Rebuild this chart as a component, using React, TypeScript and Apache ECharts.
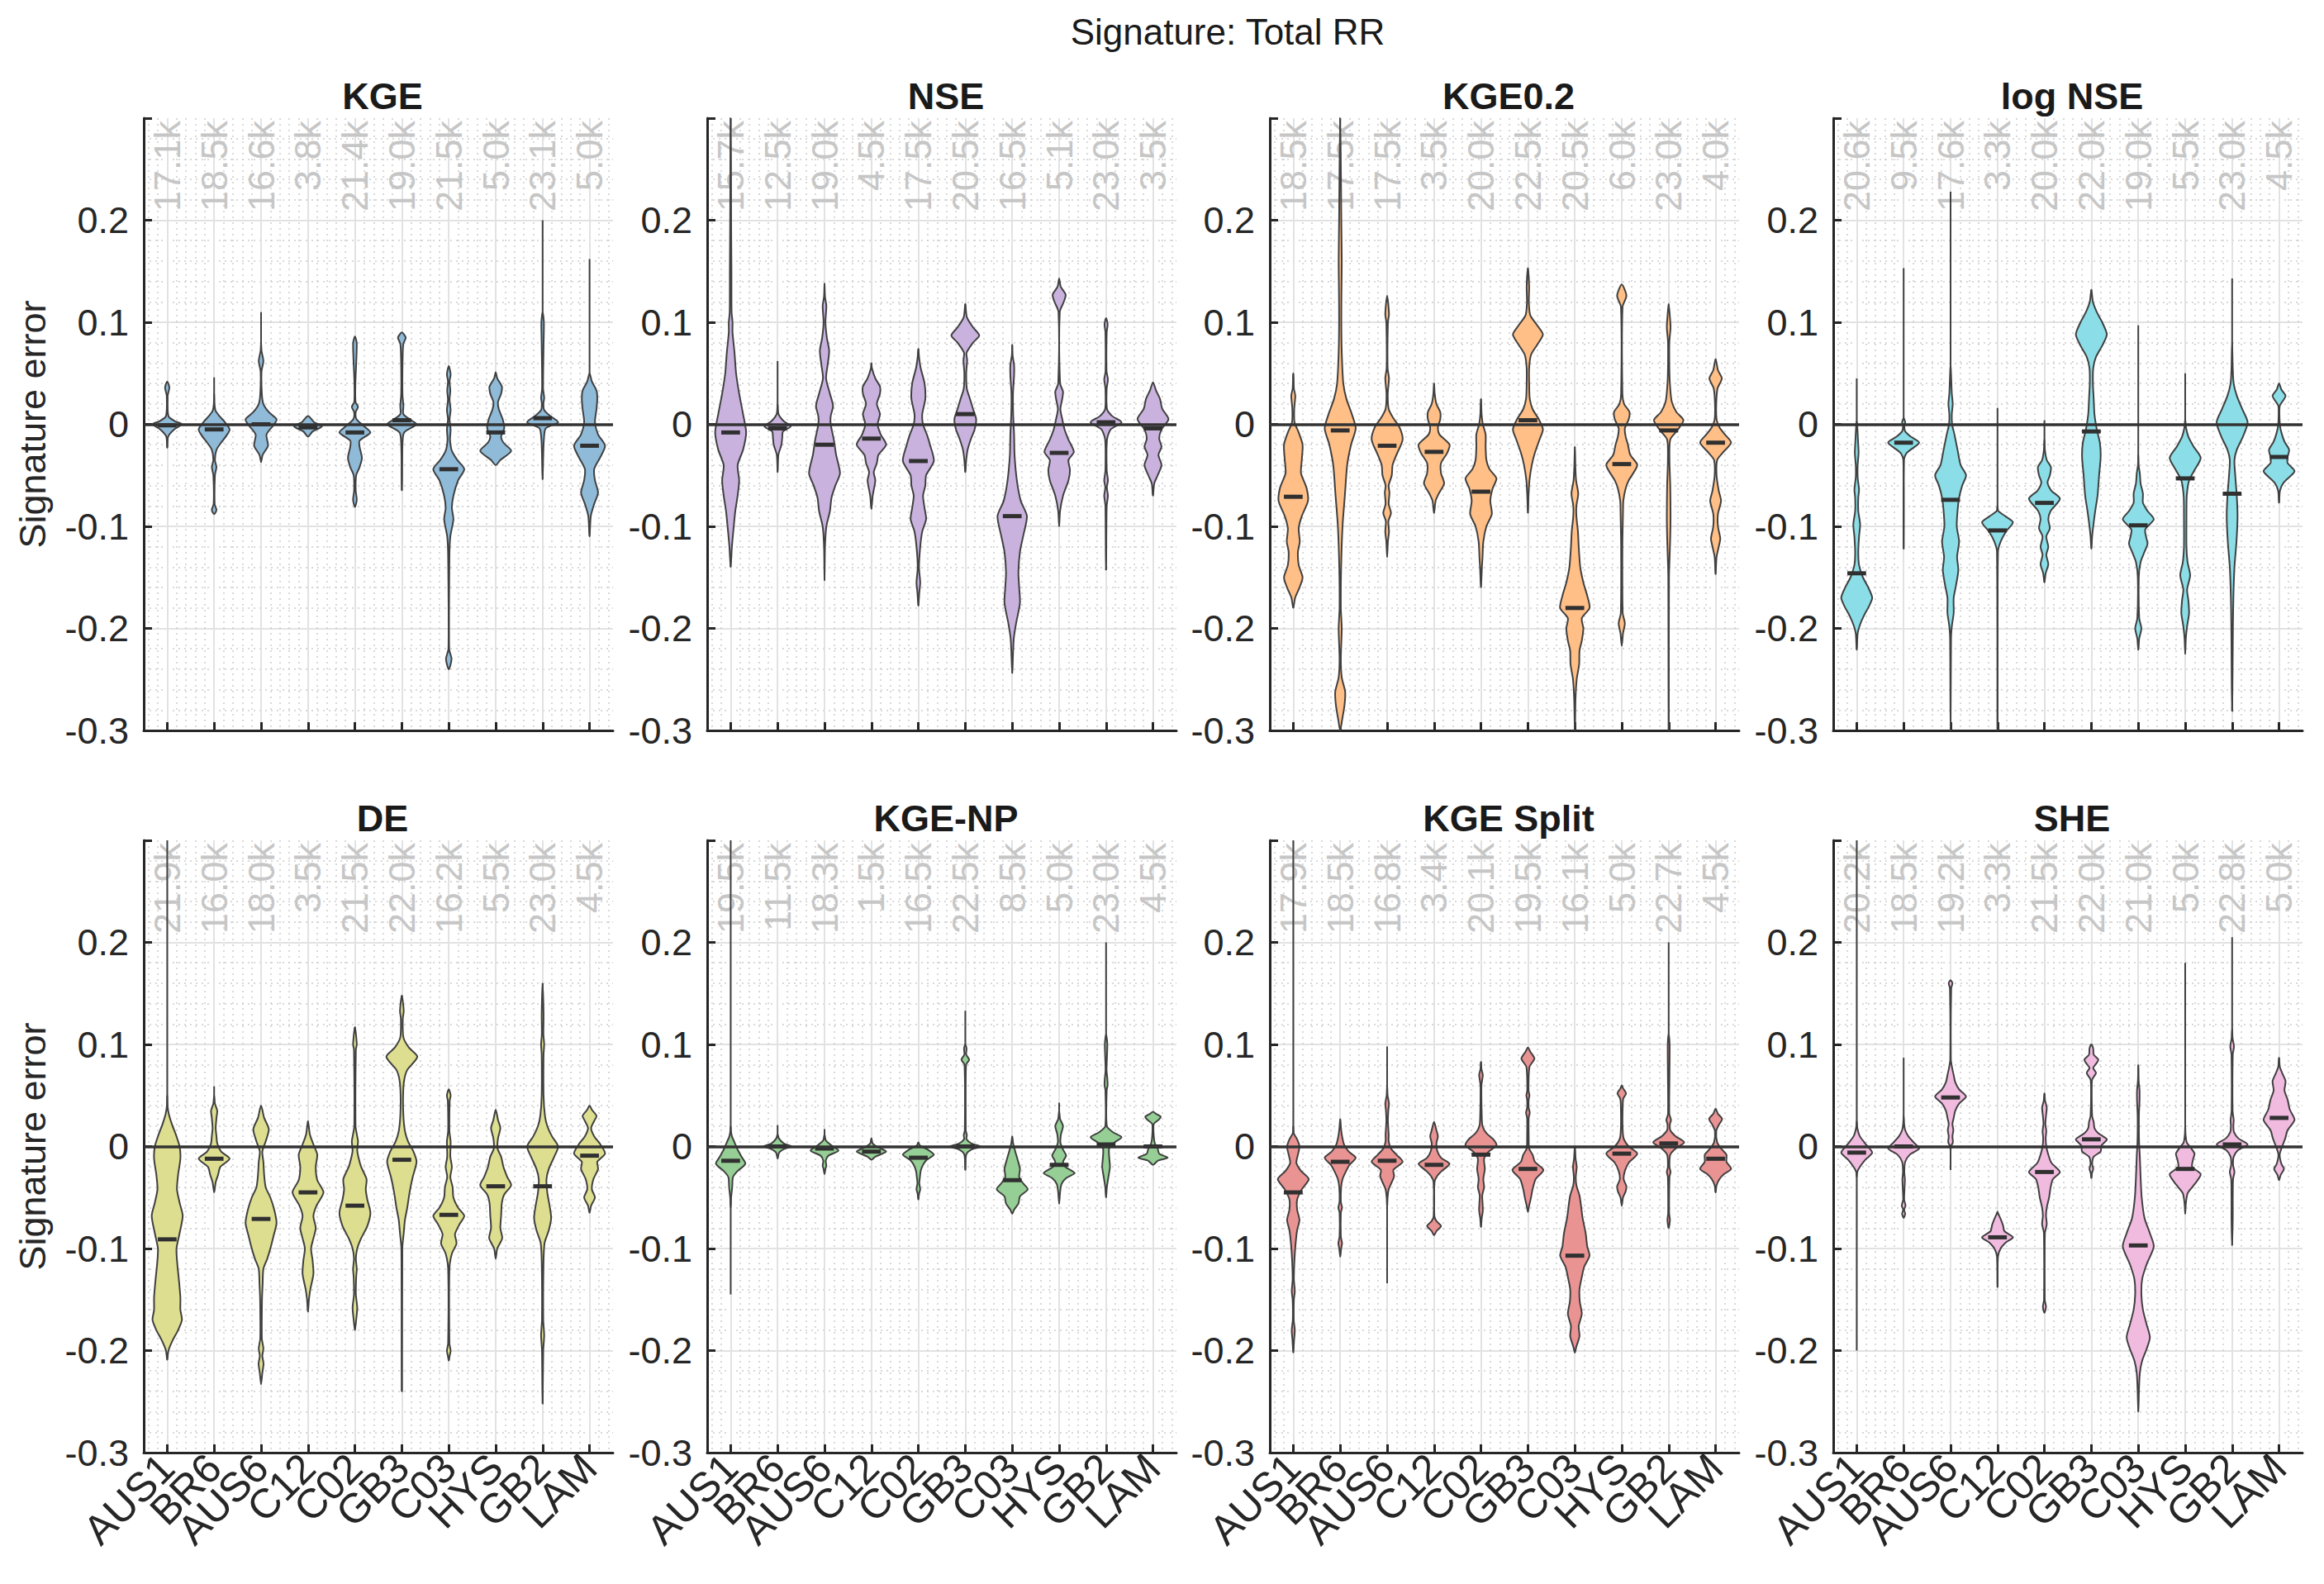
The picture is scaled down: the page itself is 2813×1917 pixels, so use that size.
import React, { useEffect, useRef } from "react";
import * as echarts from "echarts";

type Knot = [number, number];

const FONT = '"Liberation Sans", Arial, Helvetica, sans-serif';
const AXIS = "#262626";
const GRID = "#e2e2e2";
const MINOR = "#cdcdcd";
const EDGE = "#404040";

const categories = ["AUS1", "BR6", "AUS6", "C12", "C02", "GB3", "C03", "HYS", "GB2", "LAM"];
const panelTitles = ["KGE", "NSE", "KGE0.2", "log NSE", "DE", "KGE-NP", "KGE Split", "SHE"];
const violinColors = ["#8fbbd9", "#c9b3de", "#ffbf86", "#8bdee7", "#ddde90", "#95cf95", "#ea9393", "#f1bbe0"];
const yTicks = [-0.3, -0.2, -0.1, 0, 0.1, 0.2];

// ---- KGE ----
const kgeCounts = ["17.1k", "18.5k", "16.6k", "3.8k", "21.4k", "19.0k", "21.5k", "5.0k", "23.1k", "5.0k"];
const kgeMedians = [-0.001, -0.005, 0, -0.003, -0.008, 0.004, -0.044, -0.008, 0.006, -0.021];
const kgeRanges = [[-0.023, 0.042], [-0.088, 0.046], [-0.037, 0.11], [-0.012, 0.008], [-0.081, 0.086], [-0.065, 0.09], [-0.24, 0.057], [-0.04, 0.051], [-0.054, 0.2], [-0.11, 0.162]];
const kgeShapes: Knot[][] = [
  [[-0.023, 0], [-0.012, 0.06], [-0.005, 0.45], [0, 0.95], [0.003, 0.5], [0.008, 0.08], [0.028, 0.03], [0.036, 0.14], [0.042, 0]],
  [[-0.088, 0], [-0.084, 0.15], [-0.078, 0.03], [-0.05, 0.05], [-0.042, 0.15], [-0.035, 0.05], [-0.025, 0.15], [-0.018, 0.45], [-0.011, 0.8], [-0.005, 1.0], [0.002, 0.7], [0.008, 0.35], [0.013, 0.1], [0.02, 0.02], [0.03, 0]],
  [[-0.037, 0], [-0.03, 0.1], [-0.021, 0.45], [-0.01, 0.35], [0, 0.85], [0.005, 1.0], [0.012, 0.5], [0.02, 0.15], [0.03, 0.05], [0.052, 0.03], [0.062, 0.15], [0.072, 0.03], [0.08, 0]],
  [[-0.012, 0], [-0.007, 0.3], [-0.002, 0.9], [0.002, 0.4], [0.008, 0]],
  [[-0.081, 0], [-0.074, 0.12], [-0.065, 0.05], [-0.05, 0.08], [-0.042, 0.3], [-0.033, 0.45], [-0.022, 0.3], [-0.016, 0.3], [-0.008, 1.0], [-0.002, 0.6], [0.005, 0.1], [0.012, 0.05], [0.017, 0.2], [0.022, 0.04], [0.04, 0.03], [0.079, 0.12], [0.086, 0]],
  [[-0.065, 0], [-0.02, 0.04], [-0.008, 0.15], [0, 0.95], [0.004, 0.6], [0.01, 0.1], [0.018, 0.1], [0.03, 0.04], [0.065, 0.05], [0.079, 0.1], [0.085, 0.25], [0.09, 0]],
  [[-0.24, 0], [-0.23, 0.18], [-0.22, 0.02], [-0.13, 0.04], [-0.11, 0.1], [-0.093, 0.3], [-0.082, 0.2], [-0.07, 0.3], [-0.055, 0.6], [-0.044, 1.0], [-0.035, 0.55], [-0.026, 0.2], [-0.015, 0.08], [-0.005, 0.12], [0.005, 0.05], [0.014, 0.12], [0.024, 0.05], [0.033, 0.1], [0.042, 0.05], [0.049, 0.12], [0.057, 0]],
  [[-0.04, 0], [-0.035, 0.3], [-0.026, 1.0], [-0.018, 0.5], [-0.012, 0.35], [-0.004, 0.55], [0.005, 0.45], [0.015, 0.2], [0.022, 0.15], [0.03, 0.35], [0.037, 0.4], [0.045, 0.1], [0.051, 0]],
  [[-0.054, 0], [-0.03, 0.04], [-0.015, 0.08], [-0.004, 0.2], [0.002, 1.0], [0.008, 0.5], [0.014, 0.1], [0.02, 0.05], [0.026, 0.1], [0.035, 0.03], [0.077, 0.06], [0.1, 0.08], [0.11, 0]],
  [[-0.11, 0], [-0.09, 0.08], [-0.078, 0.3], [-0.067, 0.55], [-0.055, 0.35], [-0.044, 0.3], [-0.032, 0.7], [-0.021, 1.0], [-0.01, 0.55], [0.002, 0.35], [0.015, 0.45], [0.025, 0.5], [0.033, 0.45], [0.042, 0.15], [0.05, 0]],
];

// ---- NSE ----
const nseCounts = ["15.7k", "12.5k", "19.0k", "4.5k", "17.5k", "20.5k", "16.5k", "5.1k", "23.0k", "3.5k"];
const nseMedians = [-0.008, -0.004, -0.02, -0.014, -0.036, 0.01, -0.09, -0.028, 0.002, -0.004];
const nseRanges = [[-0.14, 0.3], [-0.047, 0.062], [-0.153, 0.138], [-0.083, 0.06], [-0.178, 0.074], [-0.047, 0.118], [-0.244, 0.078], [-0.1, 0.143], [-0.143, 0.104], [-0.07, 0.041]];
const nseShapes: Knot[][] = [
  [[-0.14, 0], [-0.12, 0.08], [-0.1, 0.2], [-0.085, 0.3], [-0.07, 0.45], [-0.055, 0.55], [-0.04, 0.45], [-0.025, 0.8], [-0.008, 1.0], [0.01, 0.8], [0.03, 0.55], [0.05, 0.35], [0.07, 0.25], [0.09, 0.12], [0.1, 0.12], [0.11, 0.06], [0.15, 0.05], [0.2, 0.03], [0.3, 0]],
  [[-0.047, 0], [-0.03, 0.05], [-0.02, 0.25], [-0.013, 0.3], [-0.007, 0.35], [-0.002, 0.85], [0.003, 0.4], [0.01, 0.06], [0.02, 0]],
  [[-0.153, 0], [-0.12, 0.03], [-0.1, 0.12], [-0.085, 0.35], [-0.072, 0.45], [-0.06, 0.7], [-0.048, 1.0], [-0.03, 0.75], [-0.015, 0.6], [0, 0.4], [0.008, 0.4], [0.018, 0.55], [0.03, 0.35], [0.045, 0.1], [0.058, 0.2], [0.072, 0.3], [0.085, 0.15], [0.1, 0.06], [0.116, 0.12], [0.125, 0.03], [0.138, 0]],
  [[-0.083, 0], [-0.07, 0.08], [-0.055, 0.25], [-0.047, 0.15], [-0.038, 0.35], [-0.03, 0.45], [-0.02, 0.95], [-0.01, 0.6], [0, 0.4], [0.01, 0.55], [0.02, 0.35], [0.03, 0.55], [0.037, 0.55], [0.045, 0.25], [0.055, 0.03], [0.06, 0]],
  [[-0.178, 0], [-0.165, 0.06], [-0.155, 0.12], [-0.14, 0.04], [-0.12, 0.12], [-0.105, 0.25], [-0.093, 0.5], [-0.082, 0.4], [-0.07, 0.3], [-0.06, 0.45], [-0.05, 0.5], [-0.036, 1.0], [-0.02, 0.75], [-0.01, 0.55], [0, 0.3], [0.01, 0.25], [0.025, 0.45], [0.04, 0.4], [0.055, 0.15], [0.065, 0.05], [0.074, 0]],
  [[-0.047, 0], [-0.035, 0.06], [-0.025, 0.15], [-0.015, 0.35], [-0.005, 0.6], [0.005, 0.7], [0.015, 0.5], [0.025, 0.3], [0.035, 0.1], [0.05, 0.06], [0.063, 0.12], [0.07, 0.08], [0.08, 0.5], [0.087, 0.9], [0.095, 0.5], [0.105, 0.1], [0.118, 0]],
  [[-0.244, 0], [-0.23, 0.04], [-0.21, 0.1], [-0.195, 0.25], [-0.175, 0.5], [-0.16, 0.45], [-0.145, 0.4], [-0.125, 0.5], [-0.11, 0.7], [-0.09, 0.95], [-0.075, 0.55], [-0.055, 0.3], [-0.03, 0.15], [-0.01, 0.12], [0.01, 0.06], [0.03, 0.05], [0.048, 0.12], [0.058, 0.12], [0.068, 0.02], [0.078, 0]],
  [[-0.1, 0], [-0.085, 0.06], [-0.07, 0.25], [-0.055, 0.6], [-0.045, 0.7], [-0.035, 0.6], [-0.027, 0.95], [-0.015, 0.6], [-0.005, 0.35], [0.005, 0.2], [0.015, 0.08], [0.025, 0.2], [0.032, 0.25], [0.04, 0.06], [0.11, 0.04], [0.12, 0.3], [0.127, 0.42], [0.135, 0.1], [0.143, 0]],
  [[-0.143, 0], [-0.08, 0.04], [-0.07, 0.12], [-0.062, 0.05], [-0.055, 0.12], [-0.045, 0.04], [-0.015, 0.06], [-0.005, 0.3], [0.002, 1.0], [0.008, 0.4], [0.015, 0.06], [0.035, 0.04], [0.044, 0.12], [0.052, 0.03], [0.09, 0.04], [0.098, 0.1], [0.104, 0]],
  [[-0.07, 0], [-0.058, 0.08], [-0.05, 0.3], [-0.04, 0.55], [-0.03, 0.35], [-0.022, 0.55], [-0.014, 0.4], [-0.005, 0.55], [0.005, 1.0], [0.015, 0.6], [0.025, 0.45], [0.033, 0.2], [0.041, 0]],
];

// ---- KGE0.2 ----
const kge02Counts = ["18.5k", "17.5k", "17.5k", "3.5k", "20.0k", "22.5k", "20.5k", "6.0k", "23.0k", "4.0k"];
const kge02Medians = [-0.071, -0.006, -0.021, -0.027, -0.066, 0.004, -0.18, -0.039, -0.006, -0.018];
const kge02Ranges = [[-0.18, 0.05], [-0.3, 0.3], [-0.13, 0.126], [-0.087, 0.04], [-0.16, 0.025], [-0.087, 0.153], [-0.3, -0.022], [-0.217, 0.137], [-0.3, 0.118], [-0.147, 0.064]];
const kge02Shapes: Knot[][] = [
  [[-0.18, 0], [-0.17, 0.12], [-0.16, 0.4], [-0.15, 0.6], [-0.138, 0.35], [-0.125, 0.3], [-0.115, 0.42], [-0.102, 0.35], [-0.09, 0.55], [-0.075, 0.95], [-0.062, 0.85], [-0.048, 0.5], [-0.035, 0.55], [-0.02, 0.6], [-0.008, 0.35], [0.002, 0.08], [0.015, 0.06], [0.028, 0.13], [0.035, 0.04], [0.05, 0]],
  [[-0.3, 0], [-0.29, 0.12], [-0.275, 0.28], [-0.262, 0.32], [-0.248, 0.1], [-0.23, 0.04], [-0.2, 0.1], [-0.18, 0.04], [-0.14, 0.06], [-0.1, 0.15], [-0.07, 0.3], [-0.04, 0.45], [-0.02, 0.7], [-0.004, 1.0], [0.01, 0.75], [0.025, 0.4], [0.04, 0.2], [0.07, 0.1], [0.1, 0.07], [0.13, 0.08], [0.16, 0.1], [0.2, 0.07], [0.24, 0.05], [0.3, 0]],
  [[-0.13, 0], [-0.115, 0.05], [-0.105, 0.12], [-0.095, 0.08], [-0.087, 0.25], [-0.078, 0.1], [-0.067, 0.15], [-0.06, 0.1], [-0.05, 0.3], [-0.04, 0.35], [-0.03, 0.6], [-0.015, 1.0], [-0.003, 0.8], [0.006, 0.4], [0.015, 0.1], [0.03, 0.04], [0.045, 0.12], [0.055, 0.03], [0.1, 0.05], [0.108, 0.12], [0.126, 0]],
  [[-0.087, 0], [-0.075, 0.1], [-0.068, 0.3], [-0.058, 0.65], [-0.048, 0.45], [-0.038, 0.45], [-0.028, 0.85], [-0.02, 1.0], [-0.01, 0.35], [-0.003, 0.25], [0.005, 0.4], [0.012, 0.4], [0.02, 0.15], [0.03, 0.04], [0.04, 0]],
  [[-0.16, 0], [-0.14, 0.06], [-0.13, 0.1], [-0.115, 0.15], [-0.1, 0.35], [-0.088, 0.7], [-0.075, 0.6], [-0.063, 0.75], [-0.053, 1.0], [-0.044, 0.55], [-0.035, 0.35], [-0.022, 0.3], [-0.01, 0.3], [0, 0.12], [0.01, 0.04], [0.025, 0]],
  [[-0.087, 0], [-0.07, 0.04], [-0.055, 0.1], [-0.04, 0.25], [-0.028, 0.45], [-0.015, 0.75], [-0.005, 0.97], [0.005, 0.7], [0.015, 0.3], [0.025, 0.12], [0.04, 0.08], [0.055, 0.08], [0.068, 0.2], [0.078, 0.6], [0.088, 0.97], [0.097, 0.6], [0.107, 0.15], [0.12, 0.06], [0.135, 0.08], [0.153, 0]],
  [[-0.3, 0], [-0.27, 0.04], [-0.25, 0.12], [-0.235, 0.28], [-0.222, 0.3], [-0.212, 0.45], [-0.2, 0.55], [-0.19, 0.45], [-0.18, 0.95], [-0.168, 0.8], [-0.155, 0.55], [-0.14, 0.35], [-0.12, 0.25], [-0.105, 0.2], [-0.09, 0.1], [-0.08, 0.1], [-0.068, 0.22], [-0.055, 0.08], [-0.04, 0.03], [-0.022, 0]],
  [[-0.217, 0], [-0.205, 0.08], [-0.195, 0.2], [-0.185, 0.06], [-0.12, 0.04], [-0.085, 0.08], [-0.075, 0.1], [-0.063, 0.25], [-0.055, 0.45], [-0.04, 1.0], [-0.03, 0.55], [-0.02, 0.4], [-0.012, 0.25], [-0.004, 0.2], [0.005, 0.45], [0.012, 0.5], [0.02, 0.15], [0.03, 0.04], [0.115, 0.05], [0.126, 0.3], [0.137, 0]],
  [[-0.3, 0], [-0.15, 0.02], [-0.13, 0.06], [-0.11, 0.1], [-0.09, 0.12], [-0.06, 0.1], [-0.035, 0.05], [-0.015, 0.1], [-0.006, 0.55], [0.004, 0.95], [0.012, 0.5], [0.022, 0.2], [0.035, 0.1], [0.05, 0.05], [0.08, 0.04], [0.095, 0.12], [0.105, 0.08], [0.118, 0]],
  [[-0.147, 0], [-0.13, 0.06], [-0.12, 0.2], [-0.112, 0.3], [-0.1, 0.15], [-0.088, 0.15], [-0.075, 0.35], [-0.065, 0.2], [-0.05, 0.06], [-0.035, 0.1], [-0.028, 0.45], [-0.018, 1.0], [-0.01, 0.6], [-0.003, 0.25], [0.005, 0.06], [0.02, 0.04], [0.035, 0.12], [0.045, 0.4], [0.053, 0.15], [0.064, 0]],
];

// ---- log NSE ----
const logNseCounts = ["20.6k", "9.5k", "17.6k", "3.3k", "20.0k", "22.0k", "19.0k", "5.5k", "23.0k", "4.5k"];
const logNseMedians = [-0.146, -0.018, -0.074, -0.104, -0.077, -0.007, -0.099, -0.053, -0.068, -0.032];
const logNseRanges = [[-0.221, 0.045], [-0.122, 0.153], [-0.3, 0.228], [-0.3, 0.016], [-0.155, 0.004], [-0.122, 0.132], [-0.221, 0.097], [-0.225, 0.05], [-0.281, 0.143], [-0.077, 0.04]];
const logNseShapes: Knot[][] = [
  [[-0.221, 0], [-0.205, 0.06], [-0.197, 0.2], [-0.188, 0.45], [-0.178, 0.8], [-0.17, 1.0], [-0.16, 0.75], [-0.15, 0.4], [-0.138, 0.15], [-0.125, 0.1], [-0.11, 0.15], [-0.098, 0.22], [-0.085, 0.1], [-0.072, 0.1], [-0.064, 0.15], [-0.052, 0.06], [-0.04, 0.06], [-0.028, 0.12], [-0.015, 0.08], [-0.003, 0.04], [0.003, 0]],
  [[-0.122, 0], [-0.035, 0.02], [-0.028, 0.2], [-0.018, 1.0], [-0.012, 0.45], [-0.007, 0.1], [-0.002, 0.04], [0.002, 0.1], [0.006, 0]],
  [[-0.3, 0], [-0.21, 0.03], [-0.198, 0.08], [-0.185, 0.2], [-0.17, 0.2], [-0.158, 0.35], [-0.143, 0.5], [-0.13, 0.42], [-0.115, 0.55], [-0.1, 0.4], [-0.085, 0.45], [-0.072, 0.55], [-0.06, 0.75], [-0.05, 1.0], [-0.04, 0.65], [-0.025, 0.45], [-0.01, 0.25], [0, 0.1], [0.01, 0.08], [0.02, 0.14], [0.03, 0.08], [0.045, 0.04], [0.06, 0]],
  [[-0.3, 0], [-0.125, 0.03], [-0.115, 0.2], [-0.105, 0.55], [-0.096, 1.0], [-0.09, 0.5], [-0.085, 0.05], [-0.08, 0]],
  [[-0.155, 0], [-0.146, 0.08], [-0.137, 0.25], [-0.128, 0.12], [-0.12, 0.25], [-0.11, 0.12], [-0.102, 0.35], [-0.093, 0.25], [-0.085, 0.4], [-0.073, 1.0], [-0.065, 0.45], [-0.057, 0.2], [-0.05, 0.35], [-0.042, 0.42], [-0.035, 0.15], [-0.025, 0.03], [-0.015, 0]],
  [[-0.122, 0], [-0.11, 0.05], [-0.1, 0.12], [-0.085, 0.25], [-0.07, 0.4], [-0.05, 0.5], [-0.032, 0.6], [-0.018, 0.55], [-0.005, 0.35], [0.01, 0.2], [0.025, 0.15], [0.04, 0.1], [0.055, 0.12], [0.066, 0.3], [0.077, 0.7], [0.088, 1.0], [0.1, 0.7], [0.11, 0.35], [0.12, 0.1], [0.132, 0]],
  [[-0.221, 0], [-0.21, 0.06], [-0.2, 0.2], [-0.19, 0.06], [-0.15, 0.03], [-0.135, 0.15], [-0.125, 0.4], [-0.117, 0.6], [-0.11, 0.5], [-0.103, 0.45], [-0.093, 1.0], [-0.085, 0.6], [-0.077, 0.3], [-0.068, 0.3], [-0.058, 0.15], [-0.048, 0.1], [-0.04, 0.02], [-0.03, 0]],
  [[-0.225, 0], [-0.21, 0.04], [-0.198, 0.12], [-0.185, 0.25], [-0.172, 0.2], [-0.162, 0.12], [-0.148, 0.32], [-0.135, 0.15], [-0.12, 0.08], [-0.09, 0.08], [-0.07, 0.1], [-0.055, 0.25], [-0.045, 0.6], [-0.033, 1.0], [-0.022, 0.55], [-0.012, 0.2], [-0.003, 0.05], [0.005, 0]],
  [[-0.281, 0], [-0.24, 0.03], [-0.2, 0.05], [-0.17, 0.08], [-0.14, 0.15], [-0.115, 0.28], [-0.09, 0.35], [-0.07, 0.3], [-0.05, 0.2], [-0.035, 0.15], [-0.025, 0.3], [-0.012, 0.7], [0.002, 1.0], [0.015, 0.65], [0.028, 0.3], [0.04, 0.1], [0.055, 0.04], [0.08, 0]],
  [[-0.077, 0], [-0.065, 0.06], [-0.057, 0.3], [-0.046, 1.0], [-0.038, 0.55], [-0.032, 0.55], [-0.025, 0.65], [-0.017, 0.35], [-0.008, 0.15], [0, 0.05], [0.018, 0.04], [0.023, 0.25], [0.028, 0.42], [0.034, 0.15], [0.04, 0]],
];

// ---- DE ----
const deCounts = ["21.9k", "16.0k", "18.0k", "3.5k", "21.5k", "22.0k", "16.2k", "5.5k", "23.0k", "4.5k"];
const deMedians = [-0.091, -0.012, -0.071, -0.045, -0.058, -0.013, -0.067, -0.039, -0.039, -0.009];
const deRanges = [[-0.209, 0.3], [-0.045, 0.059], [-0.233, 0.04], [-0.162, 0.025], [-0.18, 0.117], [-0.24, 0.148], [-0.21, 0.056], [-0.11, 0.036], [-0.252, 0.16], [-0.065, 0.04]];
const deShapes: Knot[][] = [
  [[-0.209, 0], [-0.2, 0.08], [-0.19, 0.35], [-0.18, 0.7], [-0.17, 0.95], [-0.16, 0.85], [-0.148, 0.85], [-0.13, 0.75], [-0.115, 0.65], [-0.1, 0.6], [-0.085, 0.8], [-0.068, 1.0], [-0.055, 0.8], [-0.042, 0.63], [-0.028, 0.7], [-0.012, 0.85], [0, 0.8], [0.012, 0.55], [0.022, 0.3], [0.032, 0.1], [0.04, 0.02], [0.05, 0]],
  [[-0.045, 0], [-0.035, 0.1], [-0.028, 0.25], [-0.02, 0.4], [-0.012, 1.0], [-0.005, 0.45], [0.003, 0.2], [0.01, 0.15], [0.018, 0.1], [0.028, 0.15], [0.035, 0.2], [0.042, 0.05], [0.05, 0]],
  [[-0.233, 0], [-0.222, 0.08], [-0.213, 0.16], [-0.205, 0.08], [-0.198, 0.15], [-0.188, 0.05], [-0.15, 0.06], [-0.135, 0.1], [-0.12, 0.15], [-0.11, 0.4], [-0.1, 0.6], [-0.088, 0.8], [-0.075, 1.0], [-0.062, 0.85], [-0.05, 0.6], [-0.04, 0.3], [-0.028, 0.2], [-0.015, 0.15], [-0.005, 0.08], [0.005, 0.3], [0.017, 0.5], [0.028, 0.2], [0.04, 0]],
  [[-0.162, 0], [-0.15, 0.06], [-0.14, 0.15], [-0.125, 0.35], [-0.112, 0.3], [-0.1, 0.2], [-0.09, 0.35], [-0.08, 0.5], [-0.068, 0.35], [-0.058, 0.55], [-0.045, 1.0], [-0.033, 0.6], [-0.02, 0.5], [-0.008, 0.6], [0.002, 0.35], [0.012, 0.12], [0.025, 0]],
  [[-0.18, 0], [-0.17, 0.08], [-0.158, 0.15], [-0.145, 0.06], [-0.128, 0.08], [-0.12, 0.12], [-0.11, 0.06], [-0.1, 0.15], [-0.09, 0.4], [-0.078, 0.8], [-0.065, 1.0], [-0.052, 0.8], [-0.042, 0.7], [-0.032, 0.75], [-0.02, 0.4], [-0.012, 0.25], [-0.004, 0.15], [0.005, 0.2], [0.012, 0.12], [0.02, 0.04], [0.095, 0.06], [0.1, 0.12], [0.117, 0]],
  [[-0.24, 0], [-0.1, 0.03], [-0.085, 0.12], [-0.072, 0.2], [-0.06, 0.35], [-0.045, 0.5], [-0.03, 0.7], [-0.015, 0.95], [-0.005, 0.75], [0.005, 0.4], [0.015, 0.2], [0.03, 0.1], [0.05, 0.08], [0.065, 0.15], [0.075, 0.35], [0.088, 1.0], [0.097, 0.45], [0.107, 0.1], [0.125, 0.06], [0.133, 0.12], [0.148, 0]],
  [[-0.21, 0], [-0.205, 0.06], [-0.2, 0.12], [-0.193, 0.04], [-0.12, 0.04], [-0.105, 0.2], [-0.095, 0.5], [-0.086, 0.4], [-0.076, 0.7], [-0.068, 1.0], [-0.06, 0.6], [-0.05, 0.3], [-0.04, 0.25], [-0.03, 0.1], [-0.02, 0.2], [-0.01, 0.1], [0.005, 0.12], [0.015, 0.04], [0.045, 0.06], [0.05, 0.12], [0.056, 0]],
  [[-0.11, 0], [-0.1, 0.1], [-0.09, 0.42], [-0.08, 0.3], [-0.068, 0.35], [-0.055, 0.4], [-0.047, 0.55], [-0.038, 1.0], [-0.03, 0.75], [-0.02, 0.5], [-0.01, 0.35], [-0.002, 0.12], [0.008, 0.15], [0.018, 0.3], [0.026, 0.15], [0.036, 0]],
  [[-0.252, 0], [-0.2, 0.04], [-0.185, 0.1], [-0.17, 0.04], [-0.12, 0.05], [-0.095, 0.12], [-0.082, 0.4], [-0.07, 0.55], [-0.058, 0.45], [-0.045, 0.3], [-0.032, 0.25], [-0.022, 0.4], [-0.01, 0.75], [0, 1.0], [0.01, 0.6], [0.02, 0.3], [0.03, 0.15], [0.05, 0.06], [0.09, 0.06], [0.1, 0.1], [0.11, 0.05], [0.13, 0.06], [0.16, 0]],
  [[-0.065, 0], [-0.058, 0.1], [-0.05, 0.35], [-0.042, 0.15], [-0.032, 0.25], [-0.022, 0.55], [-0.015, 0.5], [-0.007, 1.0], [0.002, 0.7], [0.01, 0.3], [0.018, 0.1], [0.025, 0.3], [0.03, 0.45], [0.036, 0.15], [0.04, 0]],
];

// ---- KGE-NP ----
const kgeNpCounts = ["19.5k", "11.5k", "18.3k", "1.5k", "16.5k", "22.5k", "8.5k", "5.0k", "23.0k", "4.5k"];
const kgeNpMedians = [-0.014, 0, -0.002, -0.005, -0.011, 0, -0.033, -0.018, 0.002, 0];
const kgeNpRanges = [[-0.145, 0.3], [-0.012, 0.021], [-0.027, 0.017], [-0.013, 0.008], [-0.052, 0.004], [-0.023, 0.133], [-0.066, 0.01], [-0.056, 0.043], [-0.05, 0.2], [-0.018, 0.034]];
const kgeNpShapes: Knot[][] = [
  [[-0.06, 0], [-0.05, 0.03], [-0.04, 0.1], [-0.03, 0.15], [-0.024, 0.45], [-0.017, 0.95], [-0.01, 0.7], [-0.003, 0.45], [0.004, 0.25], [0.01, 0.08], [0.015, 0.02], [0.02, 0]],
  [[-0.012, 0], [-0.006, 0.1], [-0.002, 0.5], [0, 0.9], [0.003, 0.4], [0.008, 0.08], [0.012, 0]],
  [[-0.027, 0], [-0.022, 0.06], [-0.019, 0.12], [-0.014, 0.08], [-0.009, 0.25], [-0.004, 0.9], [0.001, 0.45], [0.006, 0.08], [0.012, 0]],
  [[-0.013, 0], [-0.01, 0.25], [-0.005, 0.95], [-0.001, 0.45], [0.003, 0.08], [0.008, 0]],
  [[-0.052, 0], [-0.046, 0.05], [-0.042, 0.12], [-0.036, 0.06], [-0.03, 0.1], [-0.024, 0.15], [-0.018, 0.3], [-0.013, 0.55], [-0.008, 1.0], [-0.003, 0.6], [0.001, 0.1], [0.004, 0]],
  [[-0.023, 0], [-0.008, 0.06], [-0.003, 0.4], [0, 1.0], [0.003, 0.4], [0.007, 0.08], [0.011, 0.1], [0.016, 0.03], [0.08, 0.05], [0.085, 0.25], [0.09, 0.06], [0.096, 0.08], [0.1, 0]],
  [[-0.066, 0], [-0.062, 0.12], [-0.056, 0.4], [-0.049, 0.5], [-0.042, 1.0], [-0.036, 0.7], [-0.03, 0.45], [-0.022, 0.5], [-0.013, 0.35], [-0.005, 0.2], [0.003, 0.06], [0.01, 0]],
  [[-0.056, 0], [-0.045, 0.06], [-0.037, 0.15], [-0.031, 0.45], [-0.026, 1.0], [-0.02, 0.4], [-0.015, 0.25], [-0.009, 0.45], [-0.003, 0.25], [0.004, 0.08], [0.012, 0.12], [0.02, 0.25], [0.027, 0.06], [0.035, 0]],
  [[-0.05, 0], [-0.04, 0.05], [-0.03, 0.15], [-0.02, 0.25], [-0.01, 0.2], [-0.002, 0.2], [0.004, 0.55], [0.009, 1.0], [0.014, 0.45], [0.02, 0.05], [0.055, 0.04], [0.06, 0.1], [0.067, 0.08], [0.075, 0.03], [0.1, 0.08], [0.11, 0]],
  [[-0.018, 0], [-0.014, 0.3], [-0.011, 0.95], [-0.007, 0.4], [-0.002, 0.3], [0.003, 0.12], [0.01, 0.05], [0.022, 0.05], [0.026, 0.35], [0.029, 0.5], [0.032, 0.2], [0.034, 0]],
];

// ---- KGE Split ----
const kgeSplitCounts = ["17.9k", "18.5k", "16.8k", "3.4k", "20.1k", "19.5k", "16.1k", "5.0k", "22.7k", "4.5k"];
const kgeSplitMedians = [-0.045, -0.015, -0.014, -0.018, -0.008, -0.022, -0.107, -0.007, 0.003, -0.012];
const kgeSplitRanges = [[-0.202, 0.3], [-0.108, 0.027], [-0.134, 0.098], [-0.087, 0.024], [-0.079, 0.083], [-0.064, 0.097], [-0.202, 0], [-0.058, 0.06], [-0.08, 0.2], [-0.045, 0.037]];
const kgeSplitShapes: Knot[][] = [
  [[-0.202, 0], [-0.19, 0.05], [-0.18, 0.1], [-0.17, 0.03], [-0.15, 0.04], [-0.142, 0.1], [-0.13, 0.04], [-0.11, 0.08], [-0.095, 0.15], [-0.082, 0.25], [-0.072, 0.4], [-0.062, 0.25], [-0.052, 0.25], [-0.042, 0.55], [-0.032, 1.0], [-0.024, 0.5], [-0.016, 0.2], [-0.008, 0.3], [0, 0.4], [0.007, 0.25], [0.013, 0.03], [0.02, 0]],
  [[-0.108, 0], [-0.1, 0.06], [-0.095, 0.12], [-0.088, 0.04], [-0.065, 0.04], [-0.06, 0.12], [-0.054, 0.04], [-0.04, 0.06], [-0.032, 0.15], [-0.025, 0.35], [-0.018, 0.6], [-0.011, 1.0], [-0.005, 0.55], [0.002, 0.25], [0.01, 0.12], [0.018, 0.05], [0.027, 0]],
  [[-0.06, 0], [-0.05, 0.03], [-0.042, 0.1], [-0.035, 0.3], [-0.029, 0.45], [-0.023, 0.4], [-0.015, 1.0], [-0.008, 0.6], [-0.002, 0.25], [0.005, 0.1], [0.012, 0.1], [0.025, 0.05], [0.036, 0.08], [0.042, 0.12], [0.05, 0.03], [0.06, 0]],
  [[-0.087, 0], [-0.083, 0.15], [-0.078, 0.45], [-0.073, 0.15], [-0.068, 0.02], [-0.035, 0.03], [-0.029, 0.2], [-0.024, 0.5], [-0.017, 1.0], [-0.011, 0.45], [-0.004, 0.2], [0.003, 0.15], [0.01, 0.25], [0.016, 0.15], [0.024, 0]],
  [[-0.079, 0], [-0.07, 0.05], [-0.063, 0.12], [-0.055, 0.1], [-0.048, 0.08], [-0.04, 0.2], [-0.032, 0.15], [-0.022, 0.25], [-0.012, 0.2], [-0.005, 0.5], [0.001, 1.0], [0.007, 0.8], [0.013, 0.35], [0.02, 0.1], [0.03, 0.05], [0.06, 0.03], [0.07, 0.12], [0.076, 0.03], [0.083, 0]],
  [[-0.064, 0], [-0.058, 0.08], [-0.05, 0.2], [-0.042, 0.3], [-0.032, 0.5], [-0.023, 1.0], [-0.015, 0.45], [-0.008, 0.3], [-0.002, 0.08], [0.01, 0.05], [0.028, 0.05], [0.033, 0.12], [0.038, 0.05], [0.046, 0.05], [0.05, 0.1], [0.055, 0.04], [0.078, 0.1], [0.086, 0.42], [0.093, 0.15], [0.097, 0]],
  [[-0.202, 0], [-0.196, 0.1], [-0.186, 0.3], [-0.176, 0.25], [-0.164, 0.45], [-0.152, 0.32], [-0.14, 0.3], [-0.128, 0.45], [-0.118, 0.6], [-0.107, 0.95], [-0.098, 0.8], [-0.085, 0.7], [-0.07, 0.5], [-0.058, 0.4], [-0.048, 0.3], [-0.038, 0.1], [-0.03, 0.06], [-0.02, 0.12], [-0.012, 0.05], [0, 0]],
  [[-0.058, 0], [-0.05, 0.08], [-0.044, 0.25], [-0.039, 0.3], [-0.032, 0.12], [-0.024, 0.2], [-0.016, 0.45], [-0.007, 1.0], [0, 0.45], [0.008, 0.12], [0.02, 0.05], [0.04, 0.06], [0.047, 0.1], [0.052, 0.28], [0.057, 0.08], [0.06, 0]],
  [[-0.08, 0], [-0.072, 0.08], [-0.065, 0.03], [-0.03, 0.05], [-0.025, 0.12], [-0.02, 0.05], [-0.008, 0.1], [-0.002, 0.45], [0.004, 1.0], [0.01, 0.45], [0.016, 0.1], [0.022, 0.08], [0.026, 0.15], [0.032, 0.04], [0.07, 0.05], [0.1, 0.06], [0.11, 0]],
  [[-0.045, 0], [-0.038, 0.06], [-0.032, 0.25], [-0.027, 0.55], [-0.022, 1.0], [-0.015, 0.7], [-0.008, 0.7], [-0.002, 0.35], [0.004, 0.1], [0.015, 0.04], [0.021, 0.2], [0.027, 0.42], [0.032, 0.15], [0.037, 0]],
];

// ---- SHE ----
const sheCounts = ["20.2k", "18.5k", "19.2k", "3.3k", "21.5k", "22.0k", "21.0k", "5.0k", "22.8k", "5.0k"];
const sheMedians = [-0.006, 0, 0.048, -0.089, -0.025, 0.007, -0.097, -0.022, 0.002, 0.028];
const sheRanges = [[-0.2, 0.3], [-0.07, 0.087], [-0.023, 0.163], [-0.138, -0.064], [-0.163, 0.052], [-0.031, 0.1], [-0.26, 0.08], [-0.066, 0.18], [-0.097, 0.205], [-0.033, 0.087]];
const sheShapes: Knot[][] = [
  [[-0.03, 0], [-0.025, 0.03], [-0.02, 0.2], [-0.013, 0.55], [-0.006, 1.0], [0.002, 0.6], [0.01, 0.2], [0.018, 0.04], [0.025, 0]],
  [[-0.07, 0], [-0.066, 0.1], [-0.062, 0.03], [-0.058, 0.12], [-0.052, 0.03], [-0.04, 0.06], [-0.032, 0.08], [-0.025, 0.04], [-0.015, 0.1], [-0.008, 0.4], [-0.002, 1.0], [0.004, 0.65], [0.01, 0.3], [0.016, 0.1], [0.022, 0.03], [0.03, 0]],
  [[-0.005, 0], [0, 0.02], [0.004, 0.15], [0.01, 0.12], [0.016, 0.18], [0.022, 0.12], [0.028, 0.2], [0.035, 0.3], [0.042, 0.55], [0.049, 1.0], [0.056, 0.55], [0.063, 0.3], [0.07, 0.2], [0.077, 0.1], [0.085, 0.02], [0.155, 0.04], [0.16, 0.12], [0.163, 0]],
  [[-0.138, 0], [-0.108, 0.03], [-0.1, 0.2], [-0.094, 0.55], [-0.089, 1.0], [-0.083, 0.45], [-0.077, 0.35], [-0.071, 0.2], [-0.066, 0.05], [-0.064, 0]],
  [[-0.163, 0], [-0.157, 0.1], [-0.15, 0.02], [-0.085, 0.03], [-0.076, 0.15], [-0.068, 0.1], [-0.06, 0.15], [-0.05, 0.3], [-0.04, 0.4], [-0.032, 0.55], [-0.025, 1.0], [-0.016, 0.45], [-0.008, 0.25], [0, 0.12], [0.008, 0.08], [0.015, 0.12], [0.022, 0.06], [0.03, 0.1], [0.038, 0.15], [0.045, 0.04], [0.052, 0]],
  [[-0.031, 0], [-0.026, 0.04], [-0.022, 0.12], [-0.017, 0.05], [-0.01, 0.15], [-0.005, 0.6], [0.001, 0.65], [0.007, 1.0], [0.013, 0.45], [0.018, 0.2], [0.024, 0.15], [0.03, 0.05], [0.065, 0.04], [0.072, 0.3], [0.077, 0.12], [0.081, 0.3], [0.085, 0.45], [0.09, 0.15], [0.096, 0.12], [0.1, 0]],
  [[-0.26, 0], [-0.24, 0.04], [-0.222, 0.1], [-0.21, 0.25], [-0.198, 0.55], [-0.187, 0.75], [-0.175, 0.55], [-0.16, 0.3], [-0.145, 0.2], [-0.13, 0.25], [-0.115, 0.55], [-0.098, 1.0], [-0.085, 0.75], [-0.07, 0.4], [-0.05, 0.22], [-0.03, 0.15], [-0.01, 0.1], [0.005, 0.05], [0.03, 0.04], [0.045, 0.08], [0.055, 0.08], [0.065, 0.02], [0.08, 0]],
  [[-0.066, 0], [-0.056, 0.04], [-0.046, 0.15], [-0.04, 0.45], [-0.033, 0.8], [-0.027, 1.0], [-0.02, 0.45], [-0.013, 0.5], [-0.007, 0.6], [-0.001, 0.35], [0.004, 0.1], [0.012, 0.02], [0.02, 0]],
  [[-0.097, 0], [-0.07, 0.04], [-0.05, 0.04], [-0.032, 0.06], [-0.025, 0.15], [-0.018, 0.06], [-0.01, 0.1], [-0.004, 0.35], [0.002, 1.0], [0.008, 0.4], [0.014, 0.12], [0.02, 0.08], [0.026, 0.1], [0.035, 0.03], [0.09, 0.04], [0.098, 0.12], [0.106, 0.03], [0.115, 0]],
  [[-0.033, 0], [-0.028, 0.1], [-0.022, 0.32], [-0.017, 0.15], [-0.008, 0.04], [0, 0.2], [0.008, 0.4], [0.016, 0.55], [0.026, 1.0], [0.036, 0.7], [0.046, 0.55], [0.055, 0.35], [0.064, 0.42], [0.072, 0.2], [0.078, 0.05], [0.087, 0]],
];

const panels = [
  { counts: kgeCounts, medians: kgeMedians, ranges: kgeRanges, shapes: kgeShapes },
  { counts: nseCounts, medians: nseMedians, ranges: nseRanges, shapes: nseShapes },
  { counts: kge02Counts, medians: kge02Medians, ranges: kge02Ranges, shapes: kge02Shapes },
  { counts: logNseCounts, medians: logNseMedians, ranges: logNseRanges, shapes: logNseShapes },
  { counts: deCounts, medians: deMedians, ranges: deRanges, shapes: deShapes },
  { counts: kgeNpCounts, medians: kgeNpMedians, ranges: kgeNpRanges, shapes: kgeNpShapes },
  { counts: kgeSplitCounts, medians: kgeSplitMedians, ranges: kgeSplitRanges, shapes: kgeSplitShapes },
  { counts: sheCounts, medians: sheMedians, ranges: sheRanges, shapes: sheShapes },
];

const gridLefts = [174, 856, 1537, 2219];
const gridTops = [143, 1017];
const gridWidth = 568;
const gridHeight = 741;

const fmtY = (v: number) => {
  if (v > 0.25) return "";
  const r = Math.round(v * 10) / 10;
  return r === 0 ? "0" : String(r);
};

const makeRenderer = (p: number) => (params: any, api: any) => {
  const panel = panels[p];
  const i = api.value(0);
  const band = api.size([1, 0])[0];
  const half = band * 0.33;
  const cx = api.coord([i, 0])[0];
  const yOf = (v: number) => api.coord([i, v])[1];
  const shape = panel.shapes[i];
  const right = shape.map(([v, w]) => [cx + w * half, yOf(v)]);
  const left = shape
    .slice(1, -1)
    .reverse()
    .map(([v, w]) => [cx - w * half, yOf(v)]);
  const [lo, hi] = panel.ranges[i];
  const yMed = yOf(panel.medians[i]);
  return {
    type: "group",
    children: [
      {
        type: "text",
        x: cx,
        y: yOf(0.3) + 3,
        rotation: Math.PI / 2,
        style: {
          text: panel.counts[i],
          fill: "#c6c6c6",
          fontSize: 45,
          fontFamily: FONT,
          align: "right",
          verticalAlign: "middle",
        },
      },
      {
        type: "line",
        shape: { x1: cx, y1: yOf(lo), x2: cx, y2: yOf(hi) },
        style: { stroke: EDGE, lineWidth: 2 },
      },
      {
        type: "polygon",
        shape: { points: right.concat(left), smooth: 0.25 },
        style: { fill: violinColors[p], stroke: EDGE, lineWidth: 2 },
      },
      {
        type: "line",
        shape: { x1: cx - band * 0.2, y1: yMed, x2: cx + band * 0.2, y2: yMed },
        style: { stroke: "#303030", lineWidth: 5 },
      },
    ],
  };
};

const buildOption = () => {
  const titles: any[] = [
    {
      text: "Signature: Total RR",
      left: 1481,
      top: 11,
      textAlign: "center",
      textStyle: { fontSize: 44, fontWeight: "normal", color: "#1a1a1a", fontFamily: FONT },
    },
  ];
  const grids: any[] = [];
  const xAxes: any[] = [];
  const yAxes: any[] = [];
  const series: any[] = [];

  panels.forEach((panel, p) => {
    const col = p % 4;
    const row = Math.floor(p / 4);
    const left = gridLefts[col];
    const top = gridTops[row];
    titles.push({
      text: panelTitles[p],
      left: left + gridWidth / 2,
      top: top - 54,
      textAlign: "center",
      textStyle: { fontSize: 45, fontWeight: "bold", color: "#1a1a1a", fontFamily: FONT },
    });
    grids.push({ left, top, width: gridWidth, height: gridHeight });
    xAxes.push({
      type: "category",
      gridIndex: p,
      data: categories,
      boundaryGap: true,
      position: "bottom",
      axisLine: { show: true, onZero: false, lineStyle: { color: AXIS, width: 3 } },
      axisTick: { show: true, inside: true, alignWithLabel: true, length: 10, lineStyle: { color: AXIS, width: 3 } },
      axisLabel: {
        show: row === 1,
        interval: 0,
        rotate: 45,
        fontSize: 50,
        color: AXIS,
        margin: 10,
        fontFamily: FONT,
      },
      splitLine: { show: false },
    });
    xAxes.push({
      type: "value",
      gridIndex: p,
      position: "top",
      min: 0.5,
      max: 10.5,
      minInterval: 1,
      maxInterval: 1,
      axisLine: { show: false },
      axisTick: { show: false },
      axisLabel: { show: false },
      splitLine: { show: true, showMinLine: false, showMaxLine: false, lineStyle: { color: GRID, width: 2 } },
      minorTick: { show: false, splitNumber: 5 },
      minorSplitLine: { show: true, lineStyle: { color: MINOR, width: 1.5, type: [2, 5] } },
    });
    yAxes.push({
      type: "value",
      gridIndex: p,
      min: yTicks[0],
      max: 0.3,
      interval: 0.1,
      name: col === 0 ? "Signature error" : "",
      nameLocation: "middle",
      nameRotate: 90,
      nameGap: 112,
      nameTextStyle: { fontSize: 45, color: AXIS, fontFamily: FONT },
      axisLine: { show: true, onZero: false, lineStyle: { color: AXIS, width: 3 } },
      axisTick: { show: true, inside: true, length: 10, lineStyle: { color: AXIS, width: 3 } },
      axisLabel: { fontSize: 45, color: AXIS, margin: 18, fontFamily: FONT, formatter: fmtY },
      splitLine: { show: true, showMinLine: false, showMaxLine: false, lineStyle: { color: GRID, width: 2 } },
      minorTick: { show: false, splitNumber: 5 },
      minorSplitLine: { show: true, lineStyle: { color: MINOR, width: 1.5, type: [2, 5] } },
    });
    series.push({
      type: "custom",
      xAxisIndex: p * 2,
      yAxisIndex: p,
      silent: true,
      z: 3,
      data: categories.map((_, i) => [i, panel.medians[i]]),
      renderItem: makeRenderer(p),
      markLine: {
        silent: true,
        symbol: ["none", "none"],
        label: { show: false },
        lineStyle: { color: "#333333", width: 3.5, type: "solid" },
        data: [{ yAxis: 0 }],
      },
    });
  });

  return {
    animation: false,
    backgroundColor: "#ffffff",
    textStyle: { fontFamily: FONT },
    title: titles,
    grid: grids,
    xAxis: xAxes,
    yAxis: yAxes,
    series,
  };
};

const App = () => {
  const chartRef = useRef<HTMLDivElement>(null);

  useEffect(() => {
    document.body.style.margin = "0";
    const chart = echarts.init(chartRef.current, null, { renderer: "svg" });
    chart.setOption(buildOption() as any);
    return () => {
      chart.dispose();
    };
  }, []);

  return <div ref={chartRef} style={{ width: "2813px", height: "1917px" }} />;
};

export default App;
